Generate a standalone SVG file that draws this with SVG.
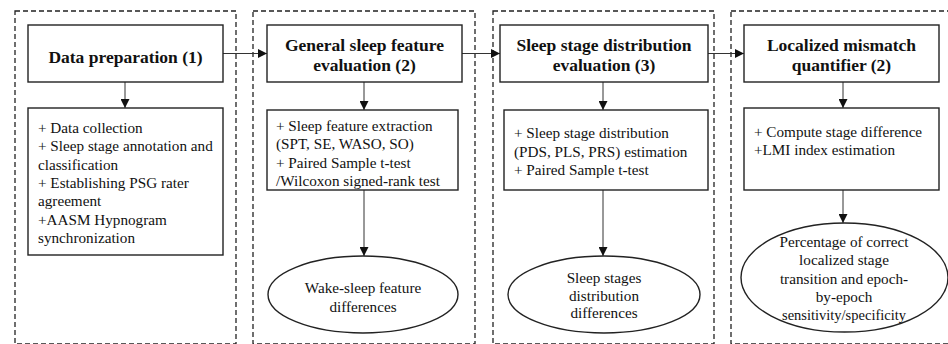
<svg xmlns="http://www.w3.org/2000/svg" width="948" height="344" viewBox="0 0 948 344" font-family="'Liberation Serif', 'Times New Roman', Times, serif">
<defs>
<marker id="ah" viewBox="0 0 10 10" refX="10" refY="5" markerWidth="9" markerHeight="9" markerUnits="userSpaceOnUse" orient="auto">
<path d="M0,0 L10,5 L0,10 z" fill="#111"/>
</marker>
<style>
.panel{fill:none;stroke:#222;stroke-width:1.3;stroke-dasharray:5 3}
.box{fill:#fff;stroke:#222;stroke-width:1.4}
.title{font-family:'Liberation Serif','Times New Roman',Times,serif;font-weight:bold;font-size:17.5px;fill:#111;text-anchor:middle}
.body{font-family:'Liberation Serif','Times New Roman',Times,serif;font-size:15.2px;fill:#111}
.mid{text-anchor:middle}
.conn{fill:none;stroke:#333;stroke-width:1;marker-end:url(#ah)}
</style>
</defs>
<rect width="948" height="344" fill="#fff"/>
<g id="panels">
<rect class="panel" x="15" y="11" width="221" height="333"/>
<rect class="panel" x="253" y="11" width="222" height="333"/>
<rect class="panel" x="493" y="11" width="221" height="333"/>
<rect class="panel" x="731" y="11" width="230" height="333"/>
</g>
<g id="connectors">
<line class="conn" x1="223" y1="53.5" x2="267" y2="53.5"/>
<line class="conn" x1="462" y1="53.5" x2="500" y2="53.5"/>
<line class="conn" x1="708" y1="53.5" x2="744" y2="53.5"/>
<line class="conn" x1="125" y1="82" x2="125" y2="108"/>
<line class="conn" x1="364" y1="82" x2="364" y2="110"/>
<line class="conn" x1="603" y1="82" x2="603" y2="110"/>
<line class="conn" x1="843" y1="82" x2="843" y2="108"/>
<line class="conn" x1="364" y1="190" x2="364" y2="256"/>
<line class="conn" x1="603" y1="190" x2="603" y2="256"/>
<line class="conn" x1="843" y1="190" x2="843" y2="223"/>
</g>
<g id="data-prep">
<rect class="box" x="28" y="25" width="195" height="57"/>
<text class="title" x="125.5" y="63">Data preparation  (1)</text>
</g>
<g id="data-prep-steps">
<rect class="box" x="28" y="108" width="195" height="147"/>
<text class="body" x="38" y="133">+ Data collection</text>
<text class="body" x="38" y="151.3">+ Sleep stage annotation and</text>
<text class="body" x="38" y="169.6">classification</text>
<text class="body" x="38" y="187.9">+ Establishing  PSG rater</text>
<text class="body" x="38" y="206.2">agreement</text>
<text class="body" x="38" y="224.5">+AASM Hypnogram</text>
<text class="body" x="38" y="242.8">synchronization</text>
</g>
<g id="general-feature">
<rect class="box" x="267" y="25" width="195" height="57"/>
<text class="title" x="364.5" y="51">General sleep feature</text>
<text class="title" x="364.5" y="71">evaluation (2)</text>
</g>
<g id="general-feature-steps">
<rect class="box" x="267" y="110" width="191" height="80"/>
<text class="body" x="276" y="131">+ Sleep feature extraction</text>
<text class="body" x="276" y="149.3">(SPT, SE, WASO, SO)</text>
<text class="body" x="276" y="167.6">+ Paired Sample t-test</text>
<text class="body" x="276" y="185.9">/Wilcoxon signed-rank test</text>
</g>
<g id="wake-sleep-diff">
<ellipse class="box" cx="363" cy="294.5" rx="95" ry="38.5"/>
<text class="body mid" x="363" y="293">Wake-sleep feature</text>
<text class="body mid" x="363" y="312">differences</text>
</g>
<g id="stage-dist">
<rect class="box" x="500" y="25" width="208" height="57"/>
<text class="title" x="604" y="51">Sleep stage distribution</text>
<text class="title" x="604" y="71">evaluation (3)</text>
</g>
<g id="stage-dist-steps">
<rect class="box" x="504" y="110" width="204" height="80"/>
<text class="body" x="514" y="138">+ Sleep stage distribution</text>
<text class="body" x="514" y="156.5">(PDS, PLS, PRS) estimation</text>
<text class="body" x="514" y="175">+ Paired Sample t-test</text>
</g>
<g id="stage-dist-diff">
<ellipse class="box" cx="604" cy="294.5" rx="96" ry="38.5"/>
<text class="body mid" x="604" y="283">Sleep stages</text>
<text class="body mid" x="604" y="300.5">distribution</text>
<text class="body mid" x="604" y="318">differences</text>
</g>
<g id="mismatch">
<rect class="box" x="744" y="25" width="195" height="57"/>
<text class="title" x="841.5" y="51">Localized  mismatch</text>
<text class="title" x="841.5" y="71">quantifier (2)</text>
</g>
<g id="mismatch-steps">
<rect class="box" x="744" y="108" width="195" height="82"/>
<text class="body" x="754" y="137">+ Compute stage difference</text>
<text class="body" x="754" y="155.3">+LMI index estimation</text>
</g>
<g id="mismatch-result">
<ellipse class="box" cx="844.5" cy="277.5" rx="103.5" ry="54.5"/>
<text class="body mid" x="844" y="247">Percentage of correct</text>
<text class="body mid" x="844" y="265.3">localized  stage</text>
<text class="body mid" x="844" y="283.6">transition and epoch-</text>
<text class="body mid" x="844" y="301.9">by-epoch</text>
<text class="body mid" x="844" y="320.2" textLength="124" lengthAdjust="spacingAndGlyphs">sensitivity/specificity</text>
</g>
</svg>
